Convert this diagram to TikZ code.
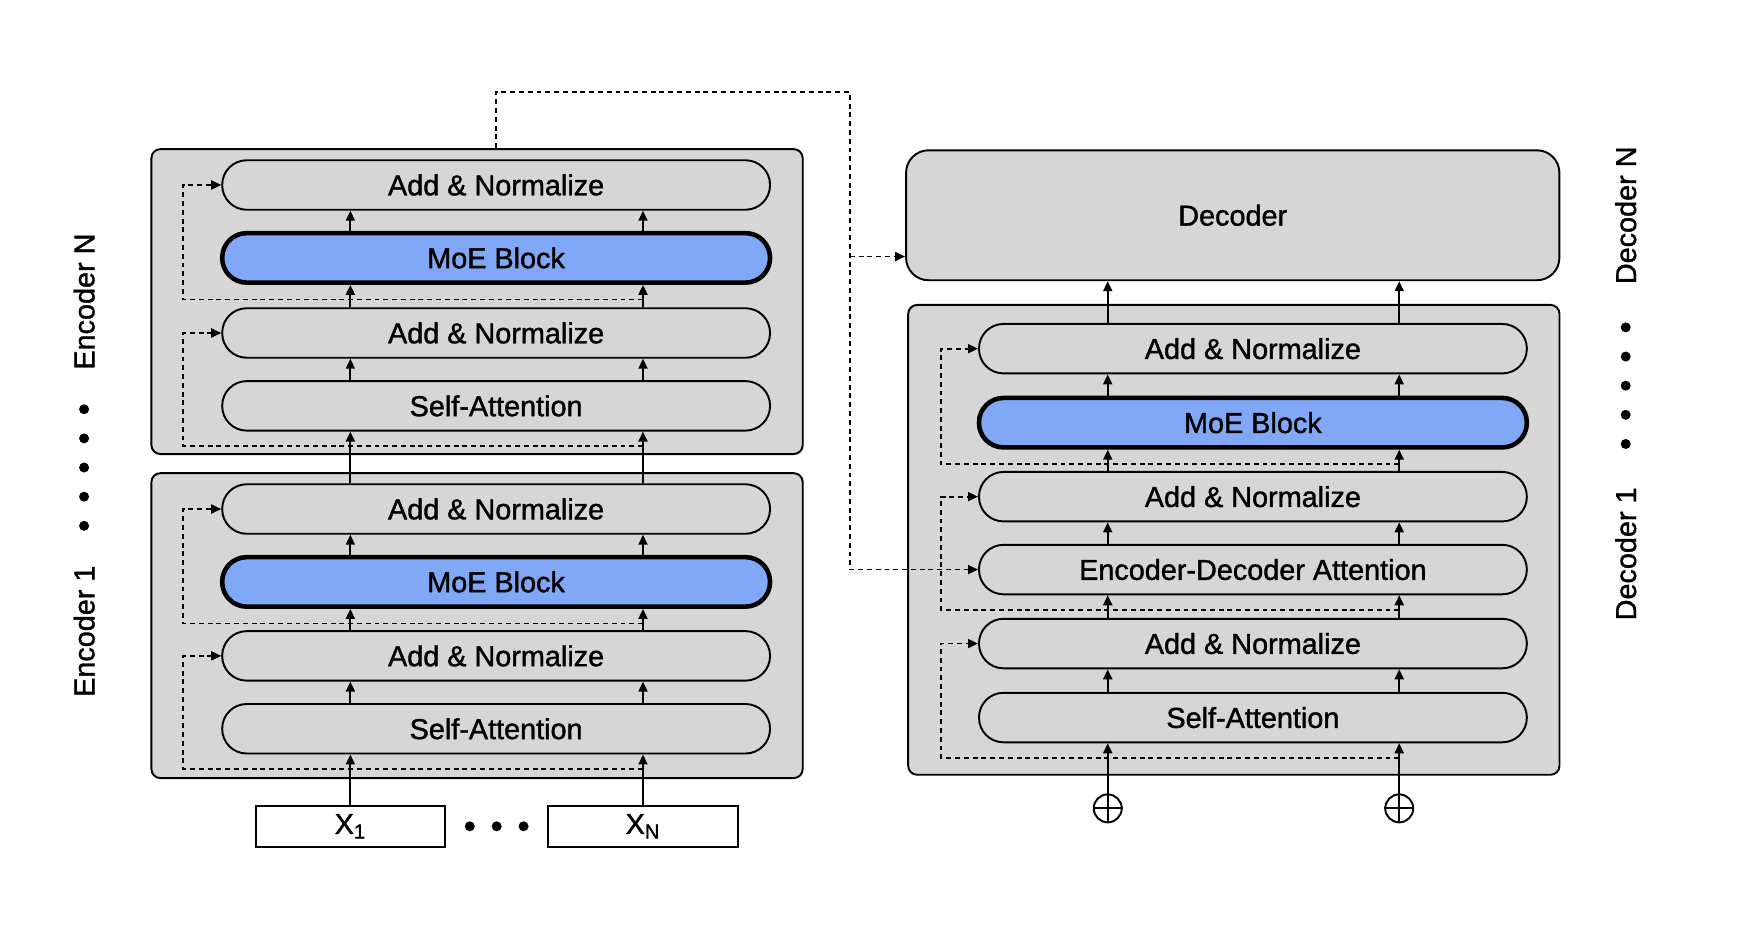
\documentclass[tikz,border=0pt]{standalone}
\usepackage{fontspec}
\setmainfont{Liberation Sans}[BoldFont={Liberation Sans}, BoldFeatures={FakeBold=1.3}]
\usetikzlibrary{arrows.meta,calc}

\definecolor{gris}{RGB}{214,214,214}
\definecolor{bleu}{RGB}{128,168,246}

\tikzstyle{pile} = [rectangle, draw, fill=gris, line width=1.1pt, rounded corners=0.18cm, minimum width=13.03cm]
\tikzstyle{couche} = [rectangle, draw, fill=gris, line width=1.1pt, text centered, rounded corners=0.49cm, minimum width=10.96cm, minimum height=0.99cm]
\tikzstyle{moe} = [couche, fill=bleu, line width=2.6pt]
\tikzstyle{entree} = [rectangle, draw, fill=white, line width=1.1pt, minimum width=3.79cm, minimum height=0.83cm]
\tikzstyle{somme} = [circle, draw, fill=white, line width=1.1pt, minimum size=0.56cm, inner sep=0pt]
\tikzstyle{fleche} = [-{Triangle[length=2mm,width=1.8mm]}, line width=1.1pt]
\tikzstyle{pointille} = [line width=1pt, dash pattern=on 2.8pt off 2.2pt]
\tikzstyle{residu} = [pointille, -{Triangle[length=2mm,width=1.8mm]}]

\begin{document}
\begin{tikzpicture}[x=0.022424cm, y=-0.022424cm, font=\fontsize{16.4}{20}\selectfont\bfseries]

    \useasboundingbox (0,0) rectangle (1568,829);

    %  piles
    \node[pile, minimum height=6.10cm] (EN) at (425.5,269) {};
    \node[pile, minimum height=6.10cm] (E1) at (425.5,558) {};
    \node[pile, minimum height=9.40cm] (DS) at (1100.5,481.5) {};
    \node[pile, rounded corners=0.45cm, minimum width=13.07cm, minimum height=2.60cm] (D) at (1099.5,192) {Decoder};

   %-------------------------------------------------------------
    \node[couche] (AN2) at (442.5,165) {Add \& Normalize};
    \node[moe] (MN) at (442.5,230) {MoE Block};
    \node[couche] (AN1) at (442.5,297) {Add \& Normalize};
    \node[couche] (SN) at (442.5,362) {Self-Attention};

    \node[couche] (A12) at (442.5,454) {Add \& Normalize};
    \node[moe] (M1) at (442.5,519) {MoE Block};
    \node[couche] (A11) at (442.5,585) {Add \& Normalize};
    \node[couche] (S1) at (442.5,650) {Self-Attention};

    \node[entree] (X1) at (312.5,737) {X\textsubscript{1}};
    \node[entree] (XN) at (573.5,737) {X\textsubscript{N}};
    \foreach \x in {419,443,467} \fill (\x,737) circle (0.1cm);

   %-------------------------------------------------------------
    \node[couche] (DA3) at (1117.5,311) {Add \& Normalize};
    \node[moe] (DM) at (1117.5,377) {MoE Block};
    \node[couche] (DA2) at (1117.5,443) {Add \& Normalize};
    \node[couche] (DE) at (1117.5,508) {Encoder-Decoder Attention};
    \node[couche] (DA1) at (1117.5,574) {Add \& Normalize};
    \node[couche] (DSA) at (1117.5,640) {Self-Attention};

    \node[somme] (P1) at (988,721) {};
    \node[somme] (PN) at (1248,721) {};
    \foreach \c in {P1,PN} \draw[line width=1.1pt] (\c.north) -- (\c.south) (\c.west) -- (\c.east);

   %-------------------------------------------------------------
    \node[rotate=90] (LEN) at (75,269) {Encoder N};
    \node[rotate=90] (LE1) at (75,563) {Encoder 1};
    \foreach \y in {365,391,417,443,469} \fill (75,\y) circle (0.1cm);

    \node[rotate=90] (LDN) at (1450,192) {Decoder N};
    \node[rotate=90] (LD1) at (1450,494) {Decoder 1};
    \foreach \y in {292,318,344,370,396} \fill (1450,\y) circle (0.1cm);

   %-------------------------------------------------------------
    \foreach \c in {X1,XN} {
      \draw[fleche] (\c.north) -- (S1.south -| \c);
      \foreach \a/\b in {S1/A11, A11/M1, M1/A12, A12/SN, SN/AN1, AN1/MN, MN/AN2}
        \draw[fleche] (\a.north -| \c) -- (\b.south -| \c);
    }
    \foreach \bas/\haut in {S1/A11, M1/A12, SN/AN1, MN/AN2}
      \draw[residu] ($(\bas.south -| XN)+(0,13)$) -| ($(\haut.west)+(-34,0)$) -- (\haut.west);

    \foreach \c in {P1,PN} {
      \draw[fleche] (\c.north) -- (DSA.south -| \c);
      \foreach \a/\b in {DSA/DA1, DA1/DE, DE/DA2, DA2/DM, DM/DA3, DA3/D}
        \draw[fleche] (\a.north -| \c) -- (\b.south -| \c);
    }
    \foreach \bas/\haut in {DSA/DA1, DE/DA2, DM/DA3}
      \draw[residu] ($(\bas.south -| PN)+(0,13)$) -| ($(\haut.west)+(-33,0)$) -- (\haut.west);

   %-------------------------------------------------------------
    \coordinate (H) at (758,82);
    \coordinate (T) at ($(D.south west)+(0,-22)$);
    \draw[residu] (EN.north -| AN2) |- (H) -- (H |- DE.west) -- (DE.west);
    \draw[residu] (H |- T) -- (T);

\end{tikzpicture}
\end{document}
